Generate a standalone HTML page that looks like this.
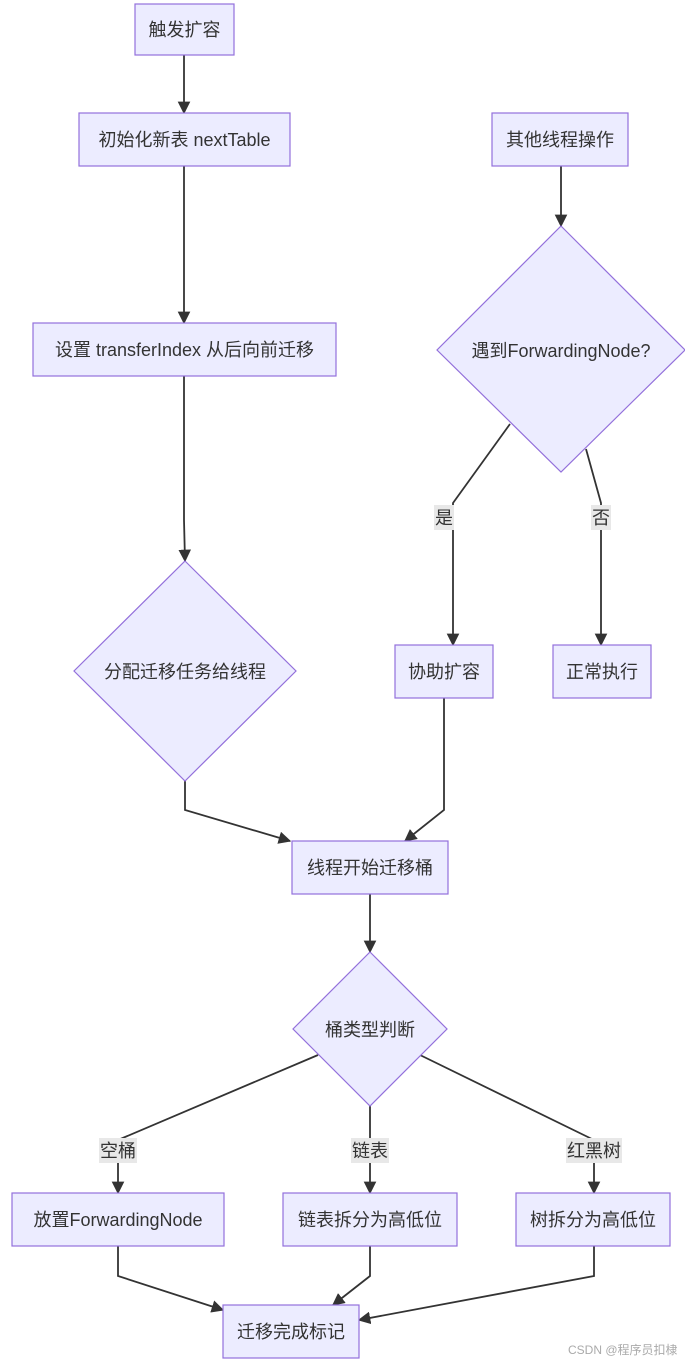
<!DOCTYPE html>
<html><head><meta charset="utf-8"><style>
html,body{margin:0;padding:0;background:#fff;}
svg{display:block;}
text{font-family:"Liberation Sans","Noto Sans CJK SC",sans-serif;font-size:18px;fill:#333;}
.n{fill:#ECECFF;stroke:#9370DB;stroke-width:1.2;}
.e{fill:none;stroke:#333;stroke-width:1.8;}
.lb{fill:#e8e8e8;stroke:none;}
</style></head><body>
<svg width="685" height="1363" viewBox="0 0 685 1363" xmlns="http://www.w3.org/2000/svg">
<defs><marker id="a" viewBox="0 0 10 10" refX="9" refY="5" markerWidth="7" markerHeight="7" orient="auto"><path d="M0,0L10,5L0,10z" fill="#333"/></marker></defs>
<!-- edges -->
<path class="e" marker-end="url(#a)" d="M184,55V113"/>
<path class="e" marker-end="url(#a)" d="M184,166V323"/>
<path class="e" marker-end="url(#a)" d="M184,376V520L185,561"/>
<path class="e" marker-end="url(#a)" d="M561,166V226"/>
<path class="e" marker-end="url(#a)" d="M510,424L453,503V645"/>
<path class="e" marker-end="url(#a)" d="M586,449L601,503V645"/>
<path class="e" marker-end="url(#a)" d="M185,781V810L290,841"/>
<path class="e" marker-end="url(#a)" d="M444,698V810L405,841"/>
<path class="e" marker-end="url(#a)" d="M370,894V952"/>
<path class="e" marker-end="url(#a)" d="M318,1055L118,1140V1193"/>
<path class="e" marker-end="url(#a)" d="M370,1106V1193"/>
<path class="e" marker-end="url(#a)" d="M420,1055L594,1140V1193"/>
<path class="e" marker-end="url(#a)" d="M118,1246V1276L223,1310"/>
<path class="e" marker-end="url(#a)" d="M370,1246V1276L333,1305"/>
<path class="e" marker-end="url(#a)" d="M594,1246V1276L359,1320"/>
<!-- edge labels -->
<rect class="lb" x="434" y="505" width="20" height="25"/><text x="444" y="524" text-anchor="middle">是</text>
<rect class="lb" x="591" y="505" width="20" height="25"/><text x="601" y="524" text-anchor="middle">否</text>
<rect class="lb" x="99" y="1138" width="38" height="25"/><text x="118" y="1157" text-anchor="middle">空桶</text>
<rect class="lb" x="351" y="1138" width="38" height="25"/><text x="370" y="1157" text-anchor="middle">链表</text>
<rect class="lb" x="566" y="1138" width="56" height="25"/><text x="594" y="1157" text-anchor="middle">红黑树</text>
<!-- nodes -->
<rect class="n" x="135" y="4" width="99" height="51"/><text x="184.5" y="36" text-anchor="middle">触发扩容</text>
<rect class="n" x="79" y="113" width="211" height="53"/><text x="184.5" y="146" text-anchor="middle">初始化新表 nextTable</text>
<rect class="n" x="33" y="323" width="303" height="53"/><text x="184.5" y="356" text-anchor="middle">设置 transferIndex 从后向前迁移</text>
<polygon class="n" points="185,561 296,671 185,781 74,671"/><text x="185" y="678" text-anchor="middle">分配迁移任务给线程</text>
<rect class="n" x="492" y="113" width="136" height="53"/><text x="560" y="146" text-anchor="middle">其他线程操作</text>
<polygon class="n" points="561,226 685,350 561,472 437,350"/><text x="561" y="357" text-anchor="middle">遇到ForwardingNode?</text>
<rect class="n" x="395" y="645" width="98" height="53"/><text x="444" y="678" text-anchor="middle">协助扩容</text>
<rect class="n" x="553" y="645" width="98" height="53"/><text x="602" y="678" text-anchor="middle">正常执行</text>
<rect class="n" x="292" y="841" width="156" height="53"/><text x="370" y="874" text-anchor="middle">线程开始迁移桶</text>
<polygon class="n" points="370,952 447,1029 370,1106 293,1029"/><text x="370" y="1036" text-anchor="middle">桶类型判断</text>
<rect class="n" x="12" y="1193" width="212" height="53"/><text x="118" y="1226" text-anchor="middle">放置ForwardingNode</text>
<rect class="n" x="283" y="1193" width="174" height="53"/><text x="370" y="1226" text-anchor="middle">链表拆分为高低位</text>
<rect class="n" x="516" y="1193" width="154" height="53"/><text x="593" y="1226" text-anchor="middle">树拆分为高低位</text>
<rect class="n" x="223" y="1305" width="136" height="53"/><text x="291" y="1338" text-anchor="middle">迁移完成标记</text>
<text x="568" y="1354" style="font-size:12px;fill:#aaa">CSDN @程序员扣棣</text>
</svg>
</body></html>
